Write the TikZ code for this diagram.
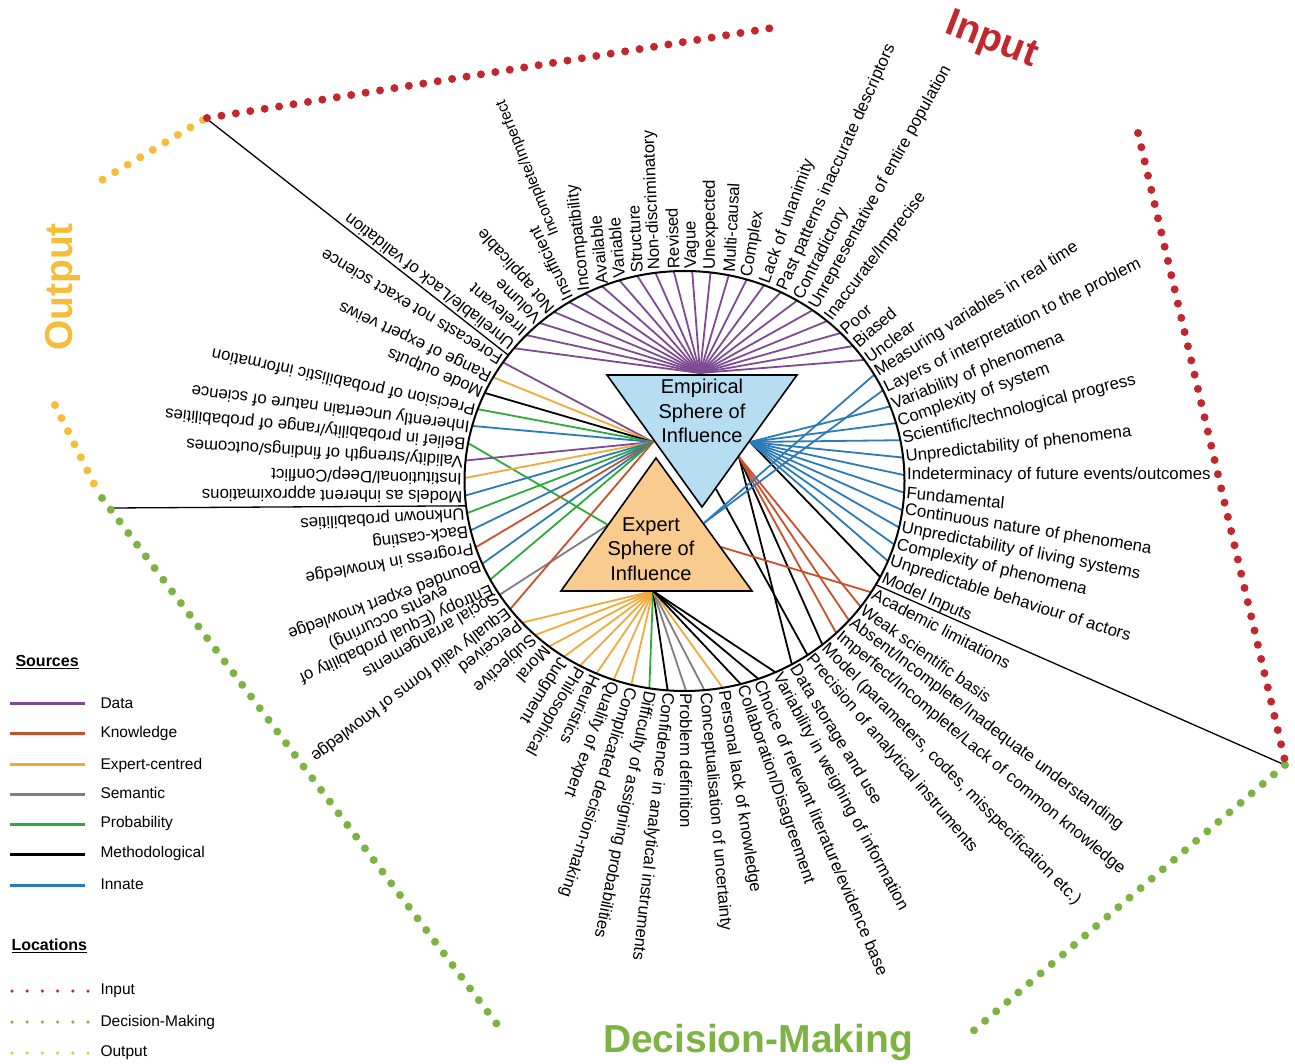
\documentclass[tikz,border=0pt]{standalone}
\usepackage{fontspec}
\setmainfont{Liberation Sans}
\usetikzlibrary{calc}
\definecolor{cdata}{HTML}{7E4A92}
\definecolor{cknow}{HTML}{C8502D}
\definecolor{cexp}{HTML}{F2A93B}
\definecolor{csem}{HTML}{7F7F7F}
\definecolor{cprob}{HTML}{2DAA3C}
\definecolor{cmeth}{HTML}{000000}
\definecolor{cinn}{HTML}{2B7BB9}
\definecolor{cin}{HTML}{C1272D}
\definecolor{cdec}{HTML}{7CB342}
\definecolor{cout}{HTML}{F6BD3B}
\definecolor{empfill}{HTML}{B7DDF2}
\definecolor{expfill}{HTML}{F9CB8F}
% #1 index, #2 text rotation, #3 colour, #4 target, #5 text
\newcommand\lab[5]{%
  \pgfmathsetmacro\labang{88+4.8*#1}%
  \coordinate (p#1) at ($(C)+(\labang:220pt and 210pt)$);%
  \draw[ray,#3] (p#1) -- (#4);%
  \node[lbl,rotate=#2] (t#1) at (p#1) {#5};%
}
\begin{document}
\begin{tikzpicture}[x=1pt,y=1pt,
  lbl/.style={anchor=west, inner xsep=2.5pt, inner ysep=0pt, align=center, font=\fontsize{16.8}{18}\selectfont, text=black},
  ray/.style={line width=1.8pt},
  ctext/.style={align=center, font=\fontsize{20}{24.5}\selectfont, text=black},
  divl/.style={line width=1.3pt, black},
  dotline/.style={line width=8pt, line cap=round, dash pattern=on 0pt off 14.6pt},
  legdot/.style={line width=3.5pt, line cap=round, dash pattern=on 0pt off 15.2pt},
  legline/.style={line width=3pt},
  legtext/.style={anchor=west, font=\fontsize{15.5}{17}\selectfont, text=black},
  leghead/.style={anchor=west, font=\bfseries\fontsize{16}{18}\selectfont, text=black},
  bigl/.style={font=\bfseries\fontsize{39}{42}\selectfont}]
\useasboundingbox (0,0) rectangle (1295,1063);
\coordinate (C) at (684.5,582);
% anchor points on the triangles
\coordinate (Etop) at (700,690);
\coordinate (Eleft) at (653,621);
\coordinate (Eright) at (750,621);
\coordinate (Er2) at (739,606);
\coordinate (Elow) at (716,574);
\coordinate (Xleft) at (608,538);
\coordinate (Xbot) at (653,472);
\coordinate (Xright) at (721,516);
\coordinate (Xright2) at (704,540);
% rays and labels
\lab{0}{91}{cdata}{Etop}{Vague}
\lab{1}{92}{cdata}{Etop}{Revised}
\lab{2}{92.5}{cdata}{Etop}{Non-discriminatory}
\lab{3}{93}{cdata}{Etop}{Structure}
\lab{4}{95}{cdata}{Etop}{Variable}
\lab{5}{95.5}{cdata}{Etop}{Available}
\lab{6}{96.5}{cdata}{Etop}{Incompatibility}
\lab{7}{116}{cdata}{Etop}{Insufficient}
\lab{8}{132}{cdata}{Etop}{Not applicable}
\lab{9}{136}{cdata}{Etop}{Volume}
\lab{10}{139}{cdata}{Etop}{Irrelevant}
\lab{11}{142}{cdata}{Etop}{Unreliable/Lack of validation}
\lab{12}{149}{cdata}{Eleft}{Forecasts not exact science}
\lab{13}{155}{cexp}{Eleft}{Range of expert veiws}
\lab{14}{157}{cmeth}{Eleft}{Mode outputs}
\lab{15}{168}{cprob}{Eleft}{Precision of probabilistic information}
\lab{16}{172.7}{cinn}{Eleft}{Inherently uncertain nature of science}
\lab{17}{174.3}{cprob}{Xleft}{Belief in probability/range of probabilities}
\lab{18}{176.5}{cdata}{Eleft}{Validity/strength of findings/outcomes}
\lab{19}{178.5}{cexp}{Eleft}{Institutional/Deep/Conflict}
\lab{20}{179.5}{cinn}{Eleft}{Models as inherent approximations}
\lab{21}{183.4}{cprob}{Eleft}{Unknown probabilities}
\lab{22}{187}{cinn}{Eleft}{Back-casting}
\lab{23}{190}{cknow}{Eleft}{Progress in knowledge}
\lab{24}{200}{cinn}{Eleft}{Bounded expert knowledge}
\lab{25}{205}{cprob}{Eleft}{Entropy (Equal probability of\\events occurring)}
\lab{26}{210}{csem}{Xleft}{Social arrangements}
\lab{27}{217}{cknow}{Eleft}{Equally valid forms of knowledge}
\lab{28}{218}{cexp}{Xbot}{Perceived}
\lab{29}{222}{cexp}{Xbot}{Subjective}
\lab{30}{229}{cexp}{Xbot}{Moral}
\lab{31}{238}{cexp}{Xbot}{Judgment}
\lab{32}{240}{cexp}{Xbot}{Philosophical}
\lab{33}{246}{cexp}{Xbot}{Heuristics}
\lab{34}{249}{cexp}{Xbot}{Quality of expert}
\lab{35}{252.5}{cexp}{Xbot}{Complicated decision-making}
\lab{36}{258.6}{cprob}{Xbot}{Difficulty of assigning probabilities}
\lab{37}{263.6}{cmeth}{Xbot}{Confidence in analytical instruments}
\lab{38}{270}{csem}{Xbot}{Problem definition}
\lab{39}{275}{csem}{Xbot}{Conceptualisation of uncertainty}
\lab{40}{279}{cexp}{Xbot}{Personal lack of knowledge}
\lab{41}{289}{cmeth}{Xbot}{Collaboration/Disagreement}
\lab{42}{293}{cmeth}{Xbot}{Choice of relevant literature/evidence base}
\lab{43}{298.4}{cmeth}{Xbot}{Variability in weighing of information}
\lab{44}{301.6}{cmeth}{Er2}{Data storage and use}
\lab{45}{310.5}{cmeth}{Elow}{Precision of analytical instruments}
\lab{46}{314.8}{cmeth}{Er2}{Model (parameters, codes, misspecification etc.)}
\lab{47}{320.3}{cknow}{Er2}{Imperfect/Incomplete/Lack of common knowledge}
\lab{48}{322.8}{cknow}{Er2}{Absent/Incomplete/Inadequate understanding}
\lab{49}{324.5}{cknow}{Er2}{Weak scientific basis}
\lab{50}{332.6}{cknow}{Xright}{Academic limitations}
\lab{51}{336}{cmeth}{Eright}{Model Inputs}
\lab{52}{342.6}{cinn}{Eright}{Unpredictable behaviour of actors}
\lab{53}{346.5}{cinn}{Eright}{Complexity of phenomena}
\lab{54}{349}{cinn}{Eright}{Unpredictability of living systems}
\lab{55}{351.1}{cinn}{Eright}{Continuous nature of phenomena}
\lab{56}{354.2}{cinn}{Eright}{Fundamental}
\lab{57}{360}{cinn}{Eright}{Indeterminacy of future events/outcomes}
\lab{58}{366.3}{cinn}{Eright}{Unpredictability of phenomena}
\lab{59}{374.4}{cinn}{Eright}{Scientific/technological progress}
\lab{60}{379.4}{cinn}{Eright}{Complexity of system}
\lab{61}{381.8}{cinn}{Eright}{Variability of phenomena}
\lab{62}{386.2}{cinn}{Xright2}{Layers of interpretation to the problem}
\lab{63}{392.4}{cinn}{Xright2}{Measuring variables in real time}
\lab{64}{396}{cdata}{Etop}{Unclear}
\lab{65}{401}{cdata}{Etop}{Biased}
\lab{66}{401.5}{cdata}{Etop}{Poor}
\lab{67}{413}{cdata}{Etop}{Inaccurate/Imprecise}
\lab{68}{421}{cdata}{Etop}{Unrepresentative of entire population}
\lab{69}{423}{cdata}{Etop}{Contradictory}
\lab{70}{426}{cdata}{Etop}{Past patterns inaccurate descriptors}
\lab{71}{430}{cdata}{Etop}{Lack of unanimity}
\lab{72}{440}{cdata}{Etop}{Complex}
\lab{73}{447}{cdata}{Etop}{Multi-causal}
\lab{74}{450}{cdata}{Etop}{Unexpected}
\node[lbl,rotate=112,font=\fontsize{15.5}{17}\selectfont] (tII) at (556,825) {Incomplete/Imperfect};
% triangles
\coordinate (E1) at (607,688); \coordinate (E2) at (797,688); \coordinate (E3) at (702,556);
\coordinate (X1) at (656,605); \coordinate (X2) at (561,472); \coordinate (X3) at (752,472);
\draw[line width=1.6pt, fill=empfill] (E1) -- (E2) -- (E3) -- cycle;
\draw[line width=1.6pt, fill=expfill] (X1) -- (X2) -- (X3) -- cycle;
\node[ctext] (empT) at (702,652) {Empirical\\Sphere of\\Influence};
\node[ctext] (expT) at (651,514) {Expert\\Sphere of\\Influence};
% circle
\draw[line width=2pt] (C) ellipse [x radius=220pt, y radius=210pt];
% dividers
\coordinate (d1) at ($(C)+(143.2:220pt and 210pt)$);
\coordinate (d2) at ($(C)+(186.8:220pt and 210pt)$);
\coordinate (d3) at ($(C)+(330.4:220pt and 210pt)$);
\coordinate (k1) at (207,944);
\coordinate (k2) at (112,555);
\coordinate (k3) at (1285,298);
\draw[divl] (d1) -- (k1);
\draw[divl] (d2) -- (k2);
\draw[divl] (d3) -- (k3);
% location dotted lines
\coordinate (o1) at (203,943); \coordinate (o2) at (102,883);
\coordinate (o3) at (55,658); \coordinate (o4) at (98,571);
\coordinate (m1) at (102,565); \coordinate (m2) at (505,28);
\coordinate (m3) at (972,31); \coordinate (m4) at (1285,298);
\coordinate (i1) at (207,945); \coordinate (i2) at (778,1036);
\coordinate (i3) at (1138,930); \coordinate (i4) at (1285,302);
\draw[dotline, cout] (o1) -- (o2);
\draw[dotline, cout] (o3) -- (o4);
\draw[dotline, cdec] (m1) -- (m2);
\draw[dotline, cdec] (m4) -- (m3);
\draw[dotline, cin] (i1) -- (i2);
\draw[dotline, cin] (i3) -- (i4);
% big location labels
\node[bigl, text=cin, rotate=-21] (inT) at (991,1022) {Input};
\node[bigl, text=cout, rotate=90] (outT) at (63,776) {Output};
\node[bigl, text=cdec, anchor=base] (decT) at (758,11) {Decision-Making};
% legend
\node[leghead] (srcH) at (12,401) {\underline{Sources}};
\draw[legline, cdata] (10,359) -- (85,359);
\draw[legline, cknow] (10,329) -- (85,329);
\draw[legline, cexp] (10,298) -- (85,298);
\draw[legline, csem] (10,268) -- (85,268);
\draw[legline, cprob] (10,238) -- (85,238);
\draw[legline, cmeth] (10,208) -- (85,208);
\draw[legline, cinn] (10,178) -- (85,178);
\node[legtext] (lg1) at (97,360) {Data};
\node[legtext] (lg2) at (97,330) {Knowledge};
\node[legtext] (lg3) at (97,298) {Expert-centred};
\node[legtext] (lg4) at (97,270) {Semantic};
\node[legtext] (lg5) at (97,240) {Probability};
\node[legtext] (lg6) at (97,210) {Methodological};
\node[legtext] (lg7) at (97,179) {Innate};
\node[leghead] (locH) at (8,117) {\underline{Locations}};
\draw[legdot, cin] (12,72) -- (89,72);
\draw[legdot, cdec] (12,41) -- (89,41);
\draw[legdot, cout] (12,10) -- (89,10);
\node[legtext] (lg8) at (97,72) {Input};
\node[legtext] (lg9) at (97,41) {Decision-Making};
\node[legtext] (lg10) at (97,10) {Output};
\end{tikzpicture}
\end{document}
